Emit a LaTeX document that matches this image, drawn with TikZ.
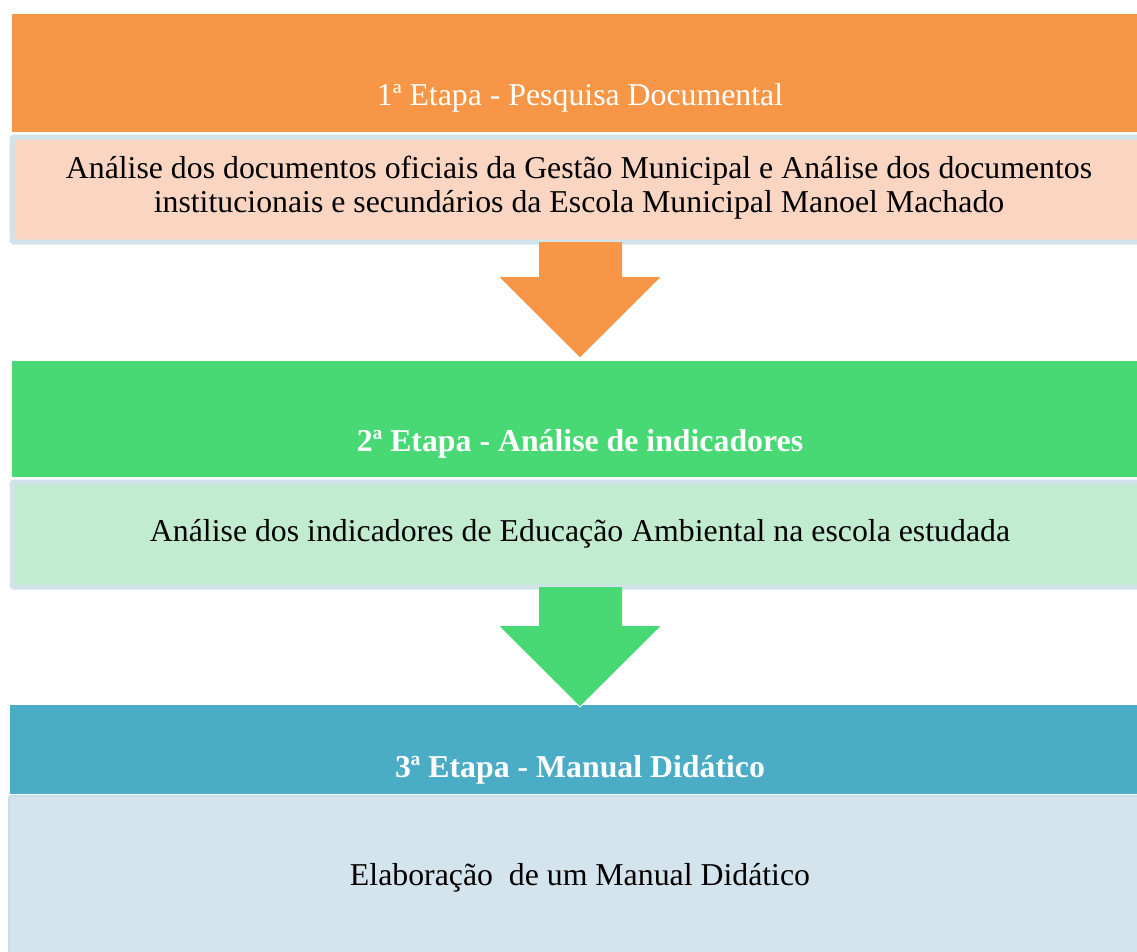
\documentclass[tikz,border=0pt]{standalone}
\usepackage{fontspec}
\setmainfont{Liberation Serif}
\usetikzlibrary{calc}
\definecolor{orangeband}{HTML}{F79646}
\definecolor{peachbox}{HTML}{FAD5C2}
\definecolor{greenband}{HTML}{48D874}
\definecolor{greenbox}{HTML}{C2ECD0}
\definecolor{blueband}{HTML}{4BACC6}
\definecolor{bluebox}{HTML}{D3E4EC}
\definecolor{boxedge}{HTML}{D0E3EA}
\newcommand\stagefont{\fontsize{31.8}{34}\selectfont}
\tikzset{
  band/.style={rectangle, draw=none, inner sep=0pt, anchor=north west},
  bodybox/.style={rectangle, draw=boxedge, line width=5pt, inner sep=0pt, anchor=north west, rounded corners=1.5pt},
  headtext/.style={text=white, anchor=base, inner sep=0pt, font=\stagefont},
  boldhead/.style={headtext, font=\stagefont\bfseries},
  bodytext/.style={text=black, anchor=base, inner sep=0pt, align=center, font=\stagefont},
  blockarrow/.style={draw=white, line width=1pt, line join=miter}
}
\newcommand\stagearrow[3]{% #1 colour, #2 top node, #3 tip y
  \path let \p1=(#2.south) in
    coordinate (st) at (580,\y1)
    coordinate (tp) at (580,#3);
  \fill[#1] let \p1=(st), \p2=(tp) in
    (\x1-41pt,\y1+2.5pt) -- (\x1-41pt,\y2+81pt) -- (\x1-81pt,\y2+81pt) -- (\x2,\y2)
    -- (\x1+81pt,\y2+81pt) -- (\x1+42pt,\y2+81pt) -- (\x1+42pt,\y1+2.5pt) -- cycle;
  \draw[blockarrow] let \p1=(st), \p2=(tp) in
    (\x1-81pt,\y2+81pt) -- (\x2,\y2) -- (\x1+81pt,\y2+81pt);
  \fill[#1] let \p1=(st), \p2=(tp) in
    (\x1-80pt,\y2+80.5pt) -- (\x2,\y2+1.2pt) -- (\x1+80pt,\y2+80.5pt) -- cycle;
}
\begin{document}
\begin{tikzpicture}[x=1pt,y=-1pt]
\useasboundingbox (0,0) rectangle (1137,951);
% stage 1
\node[band, fill=orangeband, minimum width=1140pt, minimum height=118pt] (band1) at (12,14) {};
\node[bodybox, fill=peachbox, minimum width=1140pt, minimum height=105pt] (box1) at (9.5,134.5) {};
\node[headtext] (head1) at (580,105) {1ª Etapa - Pesquisa Documental};
\node[bodytext] (text1) at (579,212) {Análise dos documentos oficiais da Gestão Municipal e Análise dos documentos\\institucionais e secundários da Escola Municipal Manoel Machado};
% stage 2
\node[band, fill=greenband, minimum width=1140pt, minimum height=116pt] (band2) at (12,361) {};
\node[bodybox, fill=greenbox, minimum width=1140pt, minimum height=105pt] (box2) at (9.5,479.5) {};
\node[boldhead] (head2) at (580,451) {2ª Etapa - Análise de indicadores};
\node[bodytext] (text2) at (580,541) {Análise dos indicadores de Educação Ambiental na escola estudada};
% stage 3
\node[band, fill=blueband, minimum width=1140pt, minimum height=89pt] (band3) at (10,705) {};
\node[bodybox, fill=bluebox, draw=bluebox!90!blueband, line width=2pt, minimum width=1140pt, minimum height=170pt] (box3) at (8,795) {};
\node[boldhead] (head3) at (580,777) {3ª Etapa - Manual Didático};
\node[bodytext] (text3) at (580,885) {Elaboração\ \ de um Manual Didático};
% arrows
\stagearrow{orangeband}{box1}{358}
\stagearrow{greenband}{box2}{707}
\end{tikzpicture}
\end{document}
